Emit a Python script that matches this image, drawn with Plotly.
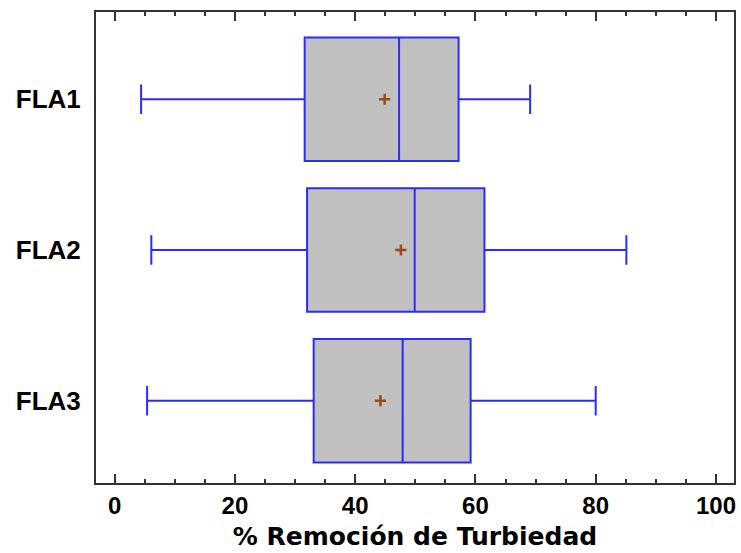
import plotly.graph_objects as go

categories = ["FLA1", "FLA2", "FLA3"]
lower_whisker = [4.4, 6.1, 5.4]
q1_values = [31.6, 32.0, 33.1]
median_values = [47.3, 49.9, 47.9]
q3_values = [57.2, 61.5, 59.2]
upper_whisker = [69.1, 85.1, 80.0]
mean_values = [44.9, 47.6, 44.2]
x_tick_values = [0, 20, 40, 60, 80, 100]

BOX_LINE = "#2b2bff"
BOX_FILL = "#c0c0c0"
MEAN_COLOR = "#9a4a1a"
FRAME = "#333333"
FONT = "Liberation Sans, Arial, sans-serif"

fig = go.Figure()
fig.add_trace(go.Box(
    y=categories,
    q1=q1_values,
    median=median_values,
    q3=q3_values,
    lowerfence=lower_whisker,
    upperfence=upper_whisker,
    orientation="h",
    fillcolor=BOX_FILL,
    line=dict(color=BOX_LINE, width=2),
    width=0.82,
    whiskerwidth=0.24,
    boxpoints=False,
    showlegend=False,
    hoverinfo="skip",
))
fig.add_trace(go.Scatter(
    x=mean_values,
    y=categories,
    mode="markers",
    marker=dict(symbol="cross-thin", size=8, line=dict(color=MEAN_COLOR, width=2.5)),
    showlegend=False,
    hoverinfo="skip",
))

fig.update_layout(
    width=741,
    height=553,
    margin=dict(l=96, r=5, t=12, b=70),
    paper_bgcolor="white",
    plot_bgcolor="white",
    font=dict(family=FONT, size=24, color="black"),
)
fig.update_xaxes(
    range=[-3.1, 103],
    tickvals=x_tick_values,
    ticktext=[f"<b>{v}</b>" for v in x_tick_values],
    ticks="inside",
    ticklen=9,
    tickwidth=2,
    tickcolor=FRAME,
    minor=dict(dtick=5, ticks="inside", ticklen=4, tickwidth=2, tickcolor=FRAME),
    showline=True,
    linecolor=FRAME,
    linewidth=2,
    mirror="ticks",
    showgrid=False,
    zeroline=False,
    tickfont=dict(size=24),
    title=dict(text="<b>% Remoción de Turbiedad</b>",
               font=dict(size=25, family="DejaVu Sans, sans-serif"), standoff=10),
)
fig.update_yaxes(
    type="category",
    categoryorder="array",
    categoryarray=categories,
    tickvals=categories,
    ticktext=[f"<b>{c}</b>" for c in categories],
    range=[2.546, -0.579],
    showline=True,
    linecolor=FRAME,
    linewidth=2,
    mirror=True,
    ticks="",
    showgrid=False,
    zeroline=False,
    tickfont=dict(size=26),
    ticklabelstandoff=8,
)

fig.write_html("out.html")
